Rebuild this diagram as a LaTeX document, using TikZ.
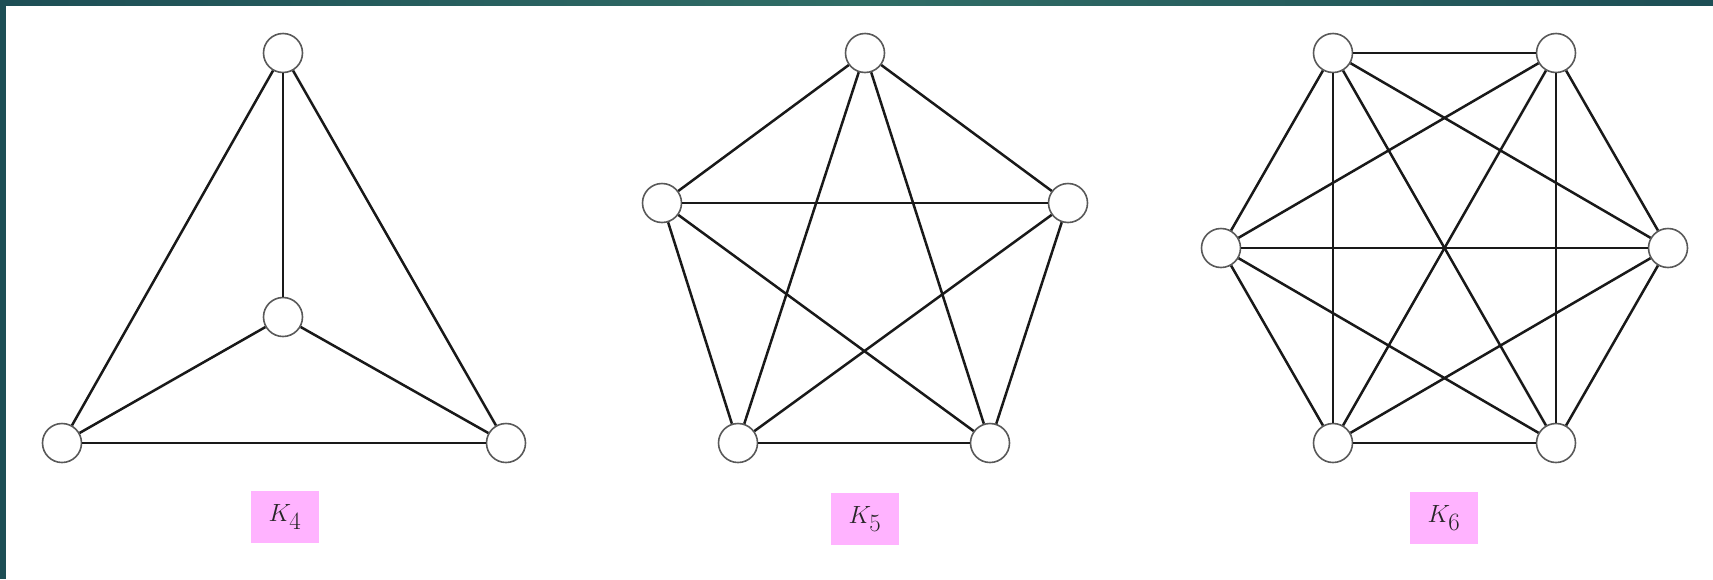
\documentclass[tikz,border=0pt]{standalone}
\begin{document}
\begin{tikzpicture}[x=1pt,y=-1pt,
  vtx/.style={circle,draw=black!65,line width=1.6pt,fill=white,minimum size=39pt,inner sep=0pt},
  edge/.style={line width=2.5pt,black!90},
  lab/.style={fill=labpink,minimum width=68pt,minimum height=52pt,inner sep=0pt,text=black!85,font=\fontsize{35}{40}\selectfont}]
\definecolor{labpink}{HTML}{FFB3FF}
\definecolor{tealA}{HTML}{1D4E55}
\definecolor{tealB}{HTML}{306D66}
\useasboundingbox (0,0) rectangle (1713,579);
\fill[white] (0,0) rectangle (1713,579);
\shade[left color=tealA,right color=tealA,middle color=tealB] (0,0) rectangle (1713,5);
\fill[tealA] (0,0) rectangle (6,579);
% K4
\node[vtx] (a1) at (283,53) {};
\node[vtx] (a2) at (283,317) {};
\node[vtx] (a3) at (62,443) {};
\node[vtx] (a4) at (506,443) {};
\foreach \u/\v in {a1/a2,a1/a3,a1/a4,a2/a3,a2/a4,a3/a4}
  \draw[edge] (\u) -- (\v);
\node[lab] (l4) at (285,517) {$K_4$};
% K5
\node[vtx] (b1) at (865,53) {};
\node[vtx] (b2) at (662,203) {};
\node[vtx] (b3) at (1068,203) {};
\node[vtx] (b4) at (738,443) {};
\node[vtx] (b5) at (990,443) {};
\foreach \u/\v in {b1/b2,b1/b3,b1/b4,b1/b5,b2/b3,b2/b4,b2/b5,b3/b4,b3/b5,b4/b5}
  \draw[edge] (\u) -- (\v);
\node[lab] (l5) at (865,519) {$K_5$};
% K6
\node[vtx] (c1) at (1333,53) {};
\node[vtx] (c2) at (1556,53) {};
\node[vtx] (c3) at (1221,248) {};
\node[vtx] (c4) at (1668,248) {};
\node[vtx] (c5) at (1333,443) {};
\node[vtx] (c6) at (1556,443) {};
\foreach \u/\v in {c1/c2,c1/c3,c1/c4,c1/c5,c1/c6,c2/c3,c2/c4,c2/c5,c2/c6,c3/c4,c3/c5,c3/c6,c4/c5,c4/c6,c5/c6}
  \draw[edge] (\u) -- (\v);
\node[lab] (l6) at (1444,518) {$K_6$};
\end{tikzpicture}
\end{document}
